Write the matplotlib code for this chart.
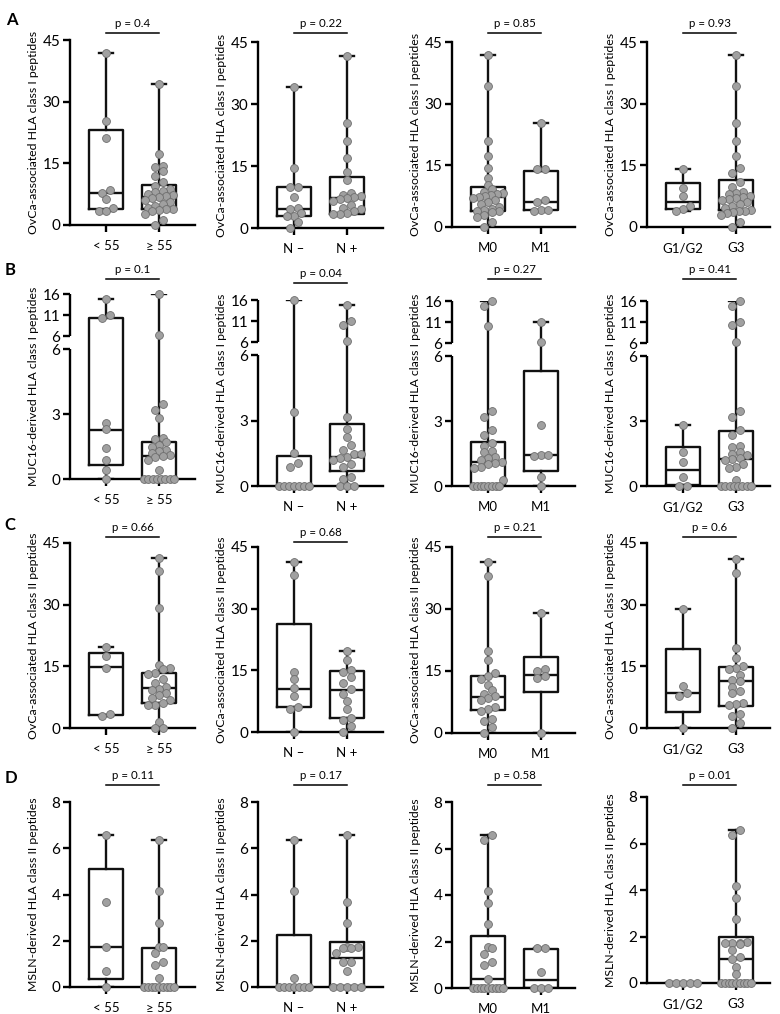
import numpy as np
import matplotlib.pyplot as plt
from matplotlib.transforms import blended_transform_factory

plt.rcParams['font.family'] = ['Lato', 'DejaVu Sans']

W, H = 780, 1014

# ---- data ----
group_labels = [["< 55", "≥ 55"], ["N –", "N +"], ["M0", "M1"], ["G1/G2", "G3"]]
row_ylabels = ["OvCa-associated HLA class I peptides",
               "MUC16-derived HLA class I peptides",
               "OvCa-associated HLA class II peptides",
               "MSLN-derived HLA class II peptides"]
p_A = ["0.4", "0.22", "0.85", "0.93"]
p_B = ["0.1", "0.04", "0.27", "0.41"]
p_C = ["0.66", "0.68", "0.21", "0.6"]
p_D = ["0.11", "0.17", "0.58", "0.01"]

# row A: OvCa-associated class I
A_age_lt = [41.8, 25.4, 21.1, 8.4, 7.9, 6.3, 4.1, 3.4, 3.4]
A_age_ge = [34.3, 17.2, 14.4, 14.2, 13.2, 12.0, 10.5, 9.5, 8.7, 8.3, 8.0, 7.6, 7.3, 7.0,
            6.8, 6.5, 6.0, 5.5, 5.0, 4.6, 4.2, 4.0, 3.8, 3.6, 3.3, 2.7, 1.3, 0.0]
A_age_box = [(3.9, 7.7, 23.1), (4.0, 6.8, 9.7)]
A_n_neg = [34.1, 14.4, 10.0, 9.9, 7.5, 4.8, 4.6, 3.6, 3.0, 2.9, 1.4, 0.0]
A_n_pos = [41.7, 25.4, 21.1, 17.0, 13.5, 11.7, 8.5, 8.0, 7.8, 7.5, 7.2, 7.0, 6.5, 5.5,
           4.8, 4.5, 4.0, 3.6, 3.4, 3.3]
A_n_box = [(3.0, 4.7, 9.9), (3.5, 7.3, 12.3)]
A_m0 = [41.8, 34.2, 20.9, 17.2, 14.4, 11.8, 10.1, 9.2, 8.5, 8.2, 8.0, 7.7, 7.5, 7.3,
        7.0, 6.6, 6.2, 5.5, 4.8, 4.5, 4.2, 4.0, 3.8, 3.6, 3.0, 2.5, 1.3, 0.0]
A_m1 = [25.4, 14.1, 14.0, 6.6, 6.0, 4.2, 4.2, 4.0]
A_m_box = [(3.9, 7.3, 9.7), (4.2, 6.0, 13.6)]
A_g12 = [14.1, 9.5, 7.6, 5.0, 4.5, 4.0]
A_g3 = [41.8, 34.2, 25.4, 20.9, 17.2, 14.4, 13.2, 11.0, 9.8, 8.6, 8.2, 8.0, 7.6, 7.3,
        7.0, 6.8, 6.5, 6.0, 5.5, 5.0, 4.6, 4.2, 4.0, 3.9, 3.7, 3.4, 2.8, 1.3, 0.0]
A_g_box = [(4.5, 6.1, 10.7), (4.1, 6.8, 11.5)]

# row B: MUC16-derived class I (broken axis 0-6 / 6-16)
B_age_lt = [14.9, 11.0, 10.2, 2.6, 2.3, 1.45, 0.9, 0.4, 0.0]
B_age_ge = [16.0, 6.24, 3.45, 3.2, 2.8, 1.9, 1.85, 1.7, 1.55, 1.5, 1.35, 1.3, 1.2, 1.1,
            1.05, 1.0, 0.9, 0.42, 0, 0, 0, 0, 0, 0, 0, 0]
B_age_box = [(0.65, 2.27, 10.3), (0.0, 1.08, 1.72)]
B_n_neg = [16.0, 3.4, 1.5, 1.05, 0.85, 0, 0, 0, 0, 0, 0, 0]
B_n_pos = [14.8, 11.1, 10.1, 6.2, 3.15, 2.6, 2.25, 1.9, 1.65, 1.45, 1.45, 1.35, 1.3,
           1.2, 1.0, 0.85, 0.4, 0.3, 0, 0, 0]
B_n_box = [(0.0, 0.0, 1.37), (0.68, 1.35, 2.85)]
B_m0 = [16.0, 14.8, 10.1, 3.44, 3.2, 2.6, 2.35, 2.0, 1.85, 1.6, 1.55, 1.35, 1.3, 1.2,
        1.1, 1.05, 1.0, 0.9, 0.85, 0.28, 0, 0, 0, 0, 0, 0, 0, 0]
B_m1 = [11.0, 6.2, 2.8, 1.42, 1.42, 1.38, 0.4, 0.0]
B_m_box = [(0.0, 1.1, 2.04), (0.68, 1.42, 5.33)]
B_g12 = [2.8, 1.55, 1.1, 0.42, 0.0, 0.0]
B_g3 = [16.0, 14.8, 11.0, 10.2, 6.2, 3.44, 3.2, 2.6, 2.35, 1.85, 1.8, 1.55, 1.5, 1.45,
        1.3, 1.25, 1.2, 1.0, 0.9, 0.85, 0.3, 0, 0, 0, 0, 0, 0, 0, 0]
B_g_box = [(0.05, 0.75, 1.8), (0.0, 1.25, 2.54)]

# row C: OvCa-associated class II
C_age_lt = [19.7, 17.4, 14.7, 3.3, 2.8]
C_age_ge = [41.4, 38.2, 29.1, 15.4, 14.5, 14.3, 13.3, 13.2, 12.0, 11.0, 10.0, 9.6, 9.2,
            8.4, 8.0, 7.2, 6.8, 6.1, 5.7, 5.5, 1.5, 0.0, 0.0]
C_age_box = [(3.2, 14.8, 18.3), (6.1, 9.65, 13.5)]
C_n_neg = [41.4, 38.3, 14.5, 13.0, 10.6, 8.7, 6.2, 5.5, 0.0]
C_n_pos = [19.8, 17.4, 15.0, 14.7, 13.4, 12.0, 10.5, 9.2, 7.5, 5.6, 3.4, 2.8, 1.4, 0.0]
C_n_box = [(6.1, 10.5, 26.2), (3.3, 10.2, 14.8)]
C_m0 = [41.3, 38.1, 19.8, 17.6, 14.5, 13.8, 13.1, 11.5, 10.5, 9.4, 8.9, 8.5, 7.9, 6.2,
        5.8, 5.4, 3.4, 2.8, 1.45, 0.0]
C_m1 = [29.0, 15.4, 15.0, 13.8, 13.2, 0.0]
C_m_box = [(5.6, 8.8, 13.7), (9.9, 14.1, 18.5)]
C_g12 = [28.9, 10.3, 8.5, 7.7, 0.0]
C_g3 = [41.2, 37.7, 19.4, 17.1, 15.0, 14.7, 14.4, 13.0, 11.6, 11.4, 10.0, 9.0, 8.5, 6.2,
        5.8, 5.5, 3.4, 2.8, 1.2, 0.0]
C_g_box = [(4.0, 8.5, 19.3), (5.4, 11.5, 14.8)]

# row D: MSLN-derived class II
D_age_lt = [6.57, 3.66, 1.72, 0.68, 0.0]
D_age_ge = [6.35, 4.17, 2.76, 1.75, 1.72, 1.47, 1.1, 0.96, 0.39, 0, 0, 0, 0, 0, 0, 0, 0, 0]
D_age_box = [(0.36, 1.72, 5.09), (0.0, 0.0, 1.67)]
D_n_neg = [6.35, 4.17, 0.39, 0, 0, 0, 0, 0, 0, 0]
D_n_pos = [6.57, 3.66, 2.76, 1.75, 1.72, 1.7, 1.67, 1.47, 1.1, 1.07, 0.68, 0, 0, 0, 0, 0]
D_n_box = [(0.0, 0.0, 2.25), (0.04, 1.26, 1.95)]
D_m0 = [6.57, 6.35, 4.17, 3.67, 2.77, 1.76, 1.72, 1.48, 1.12, 0.99, 0.4,
        0, 0, 0, 0, 0, 0, 0, 0, 0]
D_m1 = [1.72, 1.70, 0.69, 0.0, 0.0, 0.0]
D_m_box = [(0.02, 0.4, 2.24), (0.02, 0.36, 1.66)]
D_g12 = [0.0, 0.0, 0.0, 0.0, 0.0]
D_g3 = [6.57, 6.35, 4.17, 3.67, 2.75, 1.75, 1.73, 1.72, 1.70, 1.68, 1.43, 1.12, 1.05,
        0.69, 0.4, 0, 0, 0, 0, 0, 0, 0, 0, 0]
D_g_box = [(0.0, 0.0, 0.0), (0.02, 1.03, 1.98)]

rows = [
    ("A", p_A, [(A_age_lt, A_age_ge, A_age_box), (A_n_neg, A_n_pos, A_n_box),
                (A_m0, A_m1, A_m_box), (A_g12, A_g3, A_g_box)]),
    ("B", p_B, [(B_age_lt, B_age_ge, B_age_box), (B_n_neg, B_n_pos, B_n_box),
                (B_m0, B_m1, B_m_box), (B_g12, B_g3, B_g_box)]),
    ("C", p_C, [(C_age_lt, C_age_ge, C_age_box), (C_n_neg, C_n_pos, C_n_box),
                (C_m0, C_m1, C_m_box), (C_g12, C_g3, C_g_box)]),
    ("D", p_D, [(D_age_lt, D_age_ge, D_age_box), (D_n_neg, D_n_pos, D_n_box),
                (D_m0, D_m1, D_m_box), (D_g12, D_g3, D_g_box)]),
]

# ---- layout (pixels) ----
col_x = [(70, 195), (258, 383), (452, 575), (647, 770)]
row_top_bot = [
    [(40, 225), (42, 228), (42, 227), (42, 227)],
    [(294, 479), (300, 486), (301, 486), (301, 486)],
    [(543, 728), (547, 732), (547, 733), (543, 728)],
    [(802, 987), (802, 987), (802, 988), (797, 983)],
]
pline_y = [[33, 33, 33, 33], [279, 283, 279, 279], [537, 542, 537, 537], [785, 785, 785, 785]]
letter_xy = [(12, 20), (10, 270), (10, 525), (11, 778)]
yticks_rows = [[0, 15, 30, 45], None, [0, 15, 30, 45], [0, 2, 4, 6, 8]]
ymax_rows = [45, 16, 45, 8]

# broken axis for row B
B_GAP = 0.6
B_K = 0.194


def fb(v):
    v = np.asarray(v, float)
    return np.where(v <= 6, v, 6 + B_GAP + (v - 6) * B_K)


LW = 1.7
DOT_FC = '#a0a0a0'
DOT_EC = '#6e6e6e'
DOT_PX = 7.6


def swarm(ax, vals, xc, max_span=30.0):
    vals = np.asarray(vals, float)
    order = np.argsort(vals, kind='stable')
    ypx = ax.transData.transform(np.column_stack([np.zeros(len(vals)), vals]))[:, 1]
    ppu = ax.transData.transform((1, 0))[0] - ax.transData.transform((0, 0))[0]
    offs = np.zeros(len(vals))
    groups, cur = [], []
    for i in order:
        if cur and ypx[i] - ypx[cur[0]] > 0.8 * DOT_PX:
            groups.append(cur)
            cur = []
        cur.append(i)
    if cur:
        groups.append(cur)
    for g in groups:
        n = len(g)
        if n < 2:
            continue
        sp = min(DOT_PX * 0.95, max_span / (n - 1))
        for j, i in enumerate(g):
            offs[i] = (j - (n - 1) / 2) * sp / ppu
    return xc + offs


fig = plt.figure(figsize=(W / 100, H / 100), dpi=100)

for r, (letter, pvals, panels) in enumerate(rows):
    fig.text(letter_xy[r][0] / W, 1 - letter_xy[r][1] / H, letter, fontsize=12,
             fontweight='bold', ha='center', va='center')
    for c, (g1, g2, box) in enumerate(panels):
        left, right = col_x[c]
        top, bot = row_top_bot[r][c]
        ax = fig.add_axes([left / W, 1 - bot / H, (right - left) / W, (bot - top) / H])
        ax.set_xlim(-0.68, (right - left - 36) / 53.0)
        broken = (r == 1)
        conv = fb if broken else (lambda v: np.asarray(v, float))
        ax.set_ylim(0, float(conv(ymax_rows[r])))

        stats = []
        for vals, (q1, med, q3) in zip((g1, g2), box):
            stats.append(dict(med=float(conv(med)), q1=float(conv(q1)), q3=float(conv(q3)),
                              whislo=float(conv(min(vals))), whishi=float(conv(max(vals))),
                              fliers=[]))
        lp = dict(color='#111111', linewidth=LW)
        ax.bxp(stats, positions=[0, 1], widths=0.64, capwidths=0.26, showfliers=False,
               boxprops=lp, whiskerprops=lp, capprops=lp,
               medianprops=dict(color='#111111', linewidth=LW), manage_ticks=False)
        for k, vals in enumerate((g1, g2)):
            yv = conv(vals)
            xs = swarm(ax, yv, k)
            ax.scatter(xs, yv, s=32, facecolor=DOT_FC, edgecolor=DOT_EC, linewidth=0.6,
                       zorder=4, clip_on=False)

        for s in ('top', 'right'):
            ax.spines[s].set_visible(False)
        ax.spines['bottom'].set_linewidth(LW)
        ax.spines['left'].set_linewidth(LW)
        ax.set_xticks([0, 1])
        ax.set_xticklabels(group_labels[c], fontsize=9.5)
        ax.tick_params(axis='x', length=5, width=LW, pad=6)
        ax.tick_params(axis='y', length=5, width=LW, pad=2, labelsize=11)
        if broken:
            ax.spines['left'].set_visible(False)
            tr = ax.get_yaxis_transform()
            ax.plot([0, 0], [0, 6], transform=tr, color='k', lw=LW, clip_on=False,
                    solid_capstyle='butt')
            ax.plot([0, 0], [6 + B_GAP, float(fb(16))], transform=tr, color='k', lw=LW,
                    clip_on=False, solid_capstyle='butt')
            ax.set_yticks([0, 3, 6, 6 + B_GAP, float(fb(11)), float(fb(16))])
            ax.set_yticklabels(["0", "3", "6", "6", "11", "16"])
        else:
            ax.set_yticks(yticks_rows[r])
        ax.set_ylabel(row_ylabels[r], fontsize=8.8)
        ax.yaxis.set_label_coords(-31.0 / (right - left), 0.5)

        # p value bar above the two groups
        yb = 1 + (top - pline_y[r][c]) / float(bot - top)
        trb = blended_transform_factory(ax.transData, ax.transAxes)
        ax.plot([0, 1], [yb, yb], transform=trb, color='k', lw=1.1, clip_on=False)
        ax.text(0.5, yb + 4.0 / (bot - top), "p = " + pvals[c], transform=trb,
                ha='center', va='bottom', fontsize=8.3)

fig.savefig("out.png", dpi=100)
